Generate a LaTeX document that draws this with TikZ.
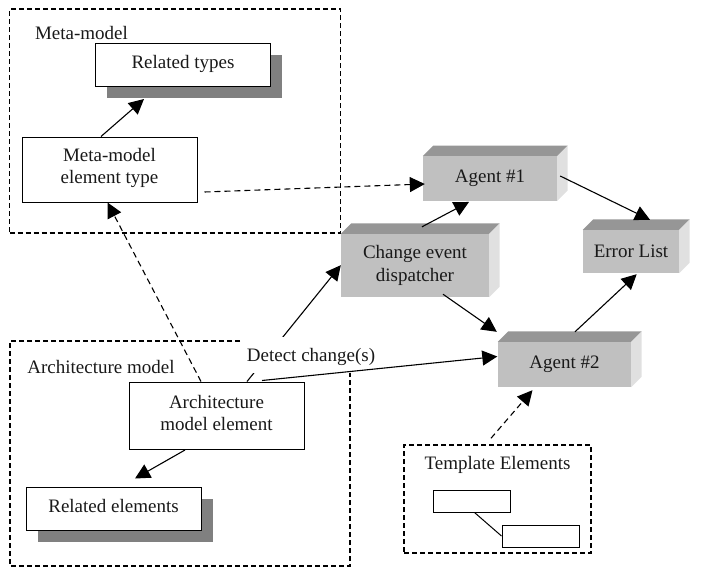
\documentclass[tikz,border=0pt]{standalone}
\usepackage{fontspec}
\setmainfont{Liberation Serif}
\usetikzlibrary{arrows.meta,shadows,calc}
\definecolor{front}{HTML}{C0C0C0}
\definecolor{topface}{HTML}{969696}
\definecolor{sideface}{HTML}{E0E0E0}
\definecolor{shade}{HTML}{808080}
\tikzset{
  every node/.style={font=\fontsize{19}{22.5}\selectfont,text=black!90,align=center,inner sep=0pt},
  plain/.style={draw=black,line width=1pt,fill=white,minimum width=#1},
  plain/.default=175pt,
  shadowed/.style={plain,copy shadow={shadow xshift=11.5pt,shadow yshift=-11.5pt,fill=shade,draw=none}},
  slab/.style={fill=front,minimum width=#1,append after command={
    \pgfextra{\let\slabn\tikzlastnode
      \fill[topface] (\slabn.north west) -- ++(10.5,-10.5) -- ($(\slabn.north east)+(10.5,-10.5)$) -- (\slabn.north east) -- cycle;
      \fill[sideface] (\slabn.north east) -- ++(10.5,-10.5) -- ($(\slabn.south east)+(10.5,-10.5)$) -- (\slabn.south east) -- cycle;
    }}},
  zone/.style={draw=black,line width=1.5pt,dash pattern=on 5pt off 3pt},
  arr/.style={-{Triangle[length=15pt,width=15pt]},line width=1.1pt,black},
  darr/.style={arr,dash pattern=on 6pt off 4pt},
  tiny box/.style={draw=black,line width=1pt,fill=white,minimum width=77pt,minimum height=22pt},
}
\begin{document}
\begin{tikzpicture}[x=1pt,y=-1pt]
\useasboundingbox (0,0) rectangle (702,568);
% dashed frames
\node[zone,minimum width=331pt,minimum height=224pt] (metaframe) at (175,121) {};
\coordinate (archA) at (240,341);
\coordinate (archB) at (350,372);
\draw[zone] (archA) -- (10,341) -- (10,566) -- (350,566) -- (archB);
\node[zone,minimum width=187pt,minimum height=108pt] (tplframe) at (497.5,499) {};
% labels of frames
\node (metalabel) at (81.5,33) {Meta-model};
\node (archlabel) at (101,367) {Architecture model};
\node (tpllabel) at (497.5,465) {Template Elements};
% boxes
\node[shadowed,minimum height=43pt,text height=13pt,text depth=6pt] (rt) at (183,64.5) {Related types};
\node[plain,minimum height=65pt,text depth=7.5pt] (mt) at (109.5,169.5) {Meta-model\\element type};
\node[plain,minimum height=67pt,text depth=5pt] (ae) at (216.5,415.5) {Architecture\\model element};
\node[shadowed,minimum height=43pt,text height=13pt,text depth=6pt] (re) at (113.5,508.5) {Related elements};
% agents
\node[slab=134pt,minimum height=44.5pt] (a1) at (490,178.5) {Agent \#1};
\node[slab=148pt,minimum height=63pt] (ce) at (415,265.5) {Change event\\dispatcher};
\node[slab=96pt,minimum height=43pt] (el) at (631,251.5) {Error List};
\node[slab=133pt,minimum height=45pt] (a2) at (564.5,364.5) {Agent \#2};
% template boxes
\node[tiny box] (t1) at (471.5,501) {};
\node[tiny box] (t2) at (540.5,536) {};
\draw[line width=1pt] ($(t1.south)+(3,0)$) -- (t2.west);
% hidden connector passes beneath the label
\draw[arr] ($(ae.north)+(30.5,0)$) -- ($(ce.south west)+(0,-32)$);
\node[fill=white,minimum width=140pt,minimum height=36pt,text depth=0pt] (det) at (311,355) {Detect change(s)};
% connectors
\draw[arr] ($(ae.north)+(45.5,-1)$) -- ($(a2.west)+(-0.5,-8)$);
\draw[arr] ($(mt.north)+(-8.5,0)$) -- ($(rt.south)+(-39,12.5)$);
\draw[darr] ($(mt.east)+(7,22.5)$) -- ($(a1.west)+(2,5.5)$);
\draw[darr] ($(ae.north)+(-15.5,0)$) -- ($(mt.south)+(-2,0)$);
\draw[arr] ($(ae.south)+(-31.5,0.5)$) -- ($(re.north)+(21.5,-8)$);
\draw[arr] ($(a1.east)+(3,-2.5)$) -- ($(el.north)+(19,-10)$);
\draw[arr] ($(ce.north)+(7,-7)$) -- ($(a1.south)+(-21,1)$);
\draw[arr] ($(ce.south)+(28,-3)$) -- ($(a2.north west)+(-1,-10)$);
\draw[arr] ($(a2.north)+(10.5,-10)$) -- ($(el.south)+(5.7,1)$);
\draw[darr] ($(tplframe.north)+(-6.5,-6)$) -- ($(a2.south)+(-32,3)$);
\end{tikzpicture}
\end{document}
